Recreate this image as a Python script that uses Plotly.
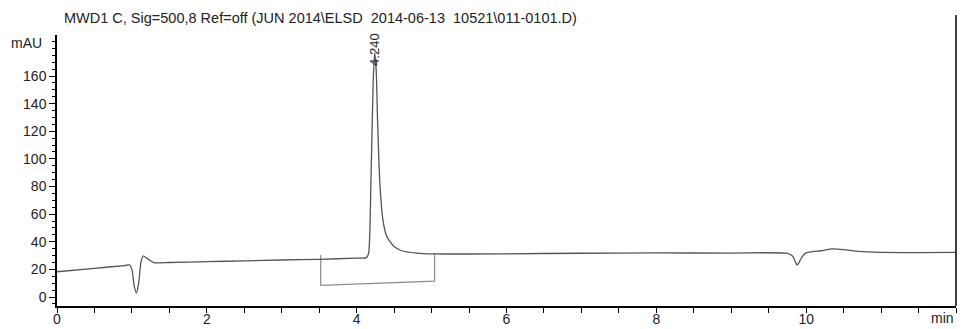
import plotly.graph_objects as go

# Chromatogram signal (time in min, response in mAU)
time_min = [0.0, 0.5, 0.9, 0.97, 1.0, 1.03, 1.06, 1.09, 1.12, 1.15, 1.2, 1.3, 1.5,
            2.0, 2.5, 3.0, 3.5, 4.0, 4.13, 4.16, 4.19, 4.22, 4.24, 4.26, 4.28,
            4.31, 4.35, 4.4, 4.5, 4.6, 4.8, 5.0, 6.0, 7.0, 8.0, 9.0, 9.75, 9.82,
            9.86, 9.88, 9.91, 9.95, 10.0, 10.2, 10.35, 10.5, 10.7, 11.0, 11.5, 12.0]
signal_mau = [18.3, 20.8, 22.8, 23.2, 20.0, 8.0, 2.9, 10.0, 25.0, 29.7, 28.0, 24.8, 25.0,
              25.6, 26.2, 26.8, 27.3, 28.2, 28.5, 32.0, 82.0, 155.0, 177.0, 165.0, 126.0,
              82.0, 56.0, 44.0, 36.5, 33.5, 31.8, 31.2, 31.3, 31.7, 31.9, 31.8, 31.6, 29.5,
              25.0, 23.2, 25.5, 29.5, 32.0, 33.5, 34.8, 34.3, 33.0, 32.3, 32.2, 32.3]

# Integration baseline drop lines
base_t = [3.52, 3.52, 5.04, 5.04]
base_mau = [30.5, 8.5, 11.5, 31.5]

# Axis tick labels
x_ticks = [0, 2, 4, 6, 8, 10]
y_ticks = [0, 20, 40, 60, 80, 100, 120, 140, 160]

peak_rt = 4.24
peak_label_y = 166.0
peak_label = "4.240"

title_text = "MWD1 C, Sig=500,8 Ref=off (JUN 2014\\ELSD  2014-06-13  10521\\011-0101.D)"

fig = go.Figure()
fig.add_trace(go.Scatter(x=base_t, y=base_mau, mode="lines",
                         line=dict(color="#8a8a8a", width=1.2), hoverinfo="skip"))
fig.add_trace(go.Scatter(x=time_min, y=signal_mau, mode="lines",
                         line=dict(color="#555555", width=1.3, shape="spline", smoothing=0.6),
                         hoverinfo="skip"))

FAM = "Liberation Sans, Arial, sans-serif"
font = dict(family=FAM, size=14, color="#222222")

fig.update_layout(
    width=963, height=329,
    margin=dict(l=57, r=7, t=35, b=23, pad=0),
    paper_bgcolor="white", plot_bgcolor="white",
    showlegend=False,
    font=font,
    xaxis=dict(range=[0, 12], tickmode="array", tickvals=x_ticks,
               ticktext=[str(v) for v in x_ticks], automargin=False,
               showgrid=False, zeroline=False,
               showline=True, linecolor="black", linewidth=1.5,
               ticks="outside", ticklen=5, tickcolor="black", tickwidth=1,
               ticklabelstandoff=-6,
               minor=dict(tickmode="linear", tick0=0, dtick=0.5, ticks="outside",
                          ticklen=5, tickcolor="black", showgrid=False),
               tickfont=font),
    yaxis=dict(range=[-6.5, 189.7], tickmode="array", tickvals=y_ticks,
               ticktext=[str(v) for v in y_ticks], automargin=False,
               showgrid=False, zeroline=False,
               showline=True, linecolor="black", linewidth=1.5,
               ticks="outside", ticklen=6, tickcolor="black", tickwidth=1,
               minor=dict(tickmode="linear", tick0=0, dtick=5, ticks="outside",
                          ticklen=3, tickcolor="black", showgrid=False),
               tickfont=font),
)

fig.add_annotation(x=peak_rt, y=peak_label_y, text=peak_label, textangle=-90,
                   showarrow=False, xanchor="center", yanchor="bottom",
                   font=dict(family=FAM, size=13, color="#222222"))
fig.add_annotation(xref="paper", yref="paper", x=0.0056, y=1.063, text=title_text,
                   showarrow=False, xanchor="left", yanchor="middle",
                   font=dict(family=FAM, size=14.5, color="#222222"))
fig.add_annotation(xref="paper", yref="paper", x=-0.014, y=0.970, text="mAU",
                   showarrow=False, xanchor="right", yanchor="middle", font=font)
fig.add_annotation(xref="paper", yref="paper", x=1.0, y=-0.046, text="min",
                   showarrow=False, xanchor="right", yanchor="middle", font=font)
fig.add_shape(type="line", xref="paper", yref="paper", x0=1, x1=1, y0=0, y1=1.074,
              line=dict(color="black", width=1.5))

fig.write_html("out.html")
